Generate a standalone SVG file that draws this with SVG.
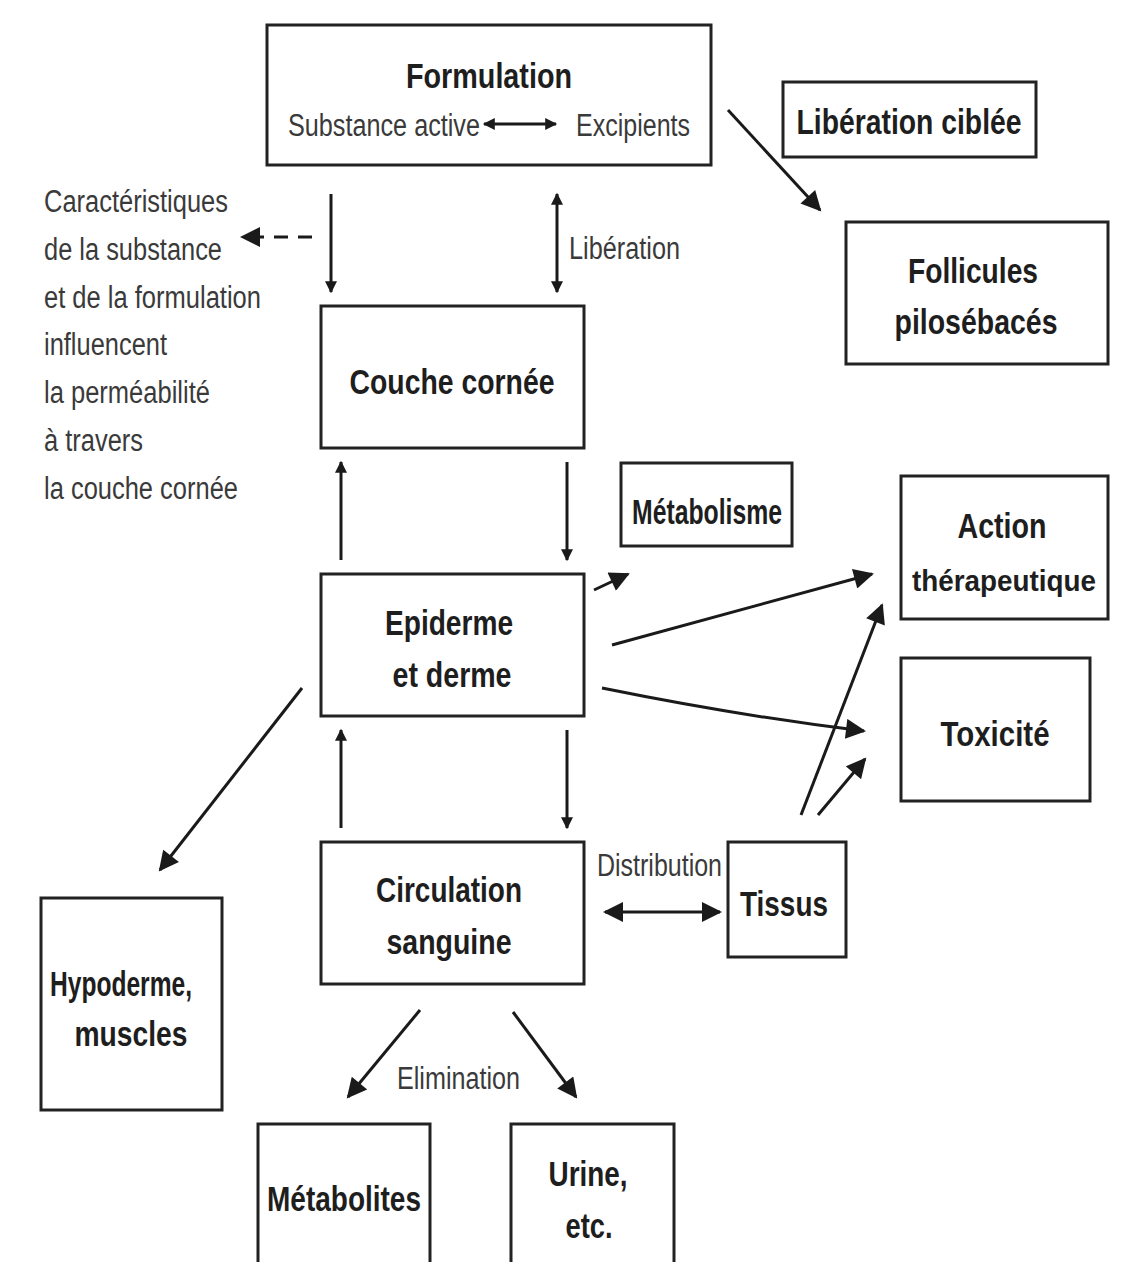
<svg xmlns="http://www.w3.org/2000/svg" width="1136" height="1262" viewBox="0 0 1136 1262">
<defs>
<style>
.box{fill:#fff;stroke:#222;stroke-width:3}
.b{font-family:"Liberation Sans",Arial,sans-serif;font-weight:bold;font-size:35px;fill:#1e1e1e;text-anchor:middle}
.n{font-family:"Liberation Sans",Arial,sans-serif;font-size:31px;fill:#3a3a3a}
.c{stroke:#1a1a1a;stroke-width:3;fill:none}
</style>
<marker id="ah" viewBox="0 0 10 10" refX="9" refY="5" markerWidth="22" markerHeight="20" markerUnits="userSpaceOnUse" orient="auto-start-reverse">
<path d="M0,0 L10,5 L0,10 z" fill="#1a1a1a"/>
</marker>
<marker id="as" viewBox="0 0 10 10" refX="9" refY="5" markerWidth="14" markerHeight="12" markerUnits="userSpaceOnUse" orient="auto-start-reverse">
<path d="M0,0 L10,5 L0,10 z" fill="#1a1a1a"/>
</marker>
</defs>
<rect width="1136" height="1262" fill="#fff"/>

<g id="formulation">
<rect class="box" x="267" y="25" width="444" height="140"/>
<text class="b" x="489" y="88" textLength="166" lengthAdjust="spacingAndGlyphs">Formulation</text>
<text class="n" x="288" y="136" textLength="192" lengthAdjust="spacingAndGlyphs">Substance active</text>
<text class="n" x="576" y="136" textLength="114" lengthAdjust="spacingAndGlyphs">Excipients</text>
</g>
<g id="liberation-ciblee">
<rect class="box" x="783" y="82" width="253" height="75"/>
<text class="b" x="909" y="134" textLength="225" lengthAdjust="spacingAndGlyphs">Libération ciblée</text>
</g>
<g id="follicules">
<rect class="box" x="846" y="222" width="262" height="142"/>
<text class="b" x="973" y="283" textLength="130" lengthAdjust="spacingAndGlyphs">Follicules</text>
<text class="b" x="976" y="334" textLength="163" lengthAdjust="spacingAndGlyphs">pilosébacés</text>
</g>
<g id="caracteristiques">
<text class="n" x="44" y="212" textLength="184" lengthAdjust="spacingAndGlyphs">Caractéristiques</text>
<text class="n" x="44" y="260" textLength="178" lengthAdjust="spacingAndGlyphs">de la substance</text>
<text class="n" x="44" y="308" textLength="217" lengthAdjust="spacingAndGlyphs">et de la formulation</text>
<text class="n" x="44" y="355" textLength="123" lengthAdjust="spacingAndGlyphs">influencent</text>
<text class="n" x="44" y="403" textLength="166" lengthAdjust="spacingAndGlyphs">la perméabilité</text>
<text class="n" x="44" y="451" textLength="99" lengthAdjust="spacingAndGlyphs">à travers</text>
<text class="n" x="44" y="499" textLength="194" lengthAdjust="spacingAndGlyphs">la couche cornée</text>
</g>
<g id="couche-cornee">
<rect class="box" x="321" y="306" width="263" height="142"/>
<text class="b" x="452" y="394" textLength="205" lengthAdjust="spacingAndGlyphs">Couche cornée</text>
</g>
<g id="metabolisme">
<rect class="box" x="621" y="463" width="171" height="83"/>
<text class="b" x="707" y="524" textLength="150" lengthAdjust="spacingAndGlyphs">Métabolisme</text>
</g>
<g id="action">
<rect class="box" x="901" y="476" width="207" height="143"/>
<text class="b" x="1002" y="538" textLength="89" lengthAdjust="spacingAndGlyphs">Action</text>
<text class="b" x="1004" y="591" style="font-size:30px" textLength="184" lengthAdjust="spacingAndGlyphs">thérapeutique</text>
</g>
<g id="toxicite">
<rect class="box" x="901" y="658" width="189" height="143"/>
<text class="b" x="995" y="746" textLength="109" lengthAdjust="spacingAndGlyphs">Toxicité</text>
</g>
<g id="epiderme">
<rect class="box" x="321" y="574" width="263" height="142"/>
<text class="b" x="449" y="635" textLength="128" lengthAdjust="spacingAndGlyphs">Epiderme</text>
<text class="b" x="452" y="687" textLength="119" lengthAdjust="spacingAndGlyphs">et derme</text>
</g>
<g id="circulation">
<rect class="box" x="321" y="842" width="263" height="142"/>
<text class="b" x="449" y="902" textLength="146" lengthAdjust="spacingAndGlyphs">Circulation</text>
<text class="b" x="449" y="954" textLength="125" lengthAdjust="spacingAndGlyphs">sanguine</text>
</g>
<g id="tissus">
<rect class="box" x="728" y="842" width="118" height="115"/>
<text class="b" x="784" y="916" textLength="88" lengthAdjust="spacingAndGlyphs">Tissus</text>
</g>
<g id="hypoderme">
<rect class="box" x="41" y="898" width="181" height="212"/>
<text class="b" x="121" y="996" textLength="142" lengthAdjust="spacingAndGlyphs">Hypoderme,</text>
<text class="b" x="131" y="1046" textLength="113" lengthAdjust="spacingAndGlyphs">muscles</text>
</g>
<g id="metabolites">
<rect class="box" x="258" y="1124" width="172" height="145"/>
<text class="b" x="344" y="1211" textLength="154" lengthAdjust="spacingAndGlyphs">Métabolites</text>
</g>
<g id="urine">
<rect class="box" x="511" y="1124" width="163" height="145"/>
<text class="b" x="588" y="1186" textLength="79" lengthAdjust="spacingAndGlyphs">Urine,</text>
<text class="b" x="589" y="1238" textLength="47" lengthAdjust="spacingAndGlyphs">etc.</text>
</g>

<g id="connectors">
<line class="c" x1="484" y1="124" x2="556" y2="124" stroke-width="2" marker-start="url(#as)" marker-end="url(#as)"/>
<line class="c" x1="331" y1="194" x2="331" y2="292" marker-end="url(#as)"/>
<line class="c" x1="557" y1="194" x2="557" y2="292" marker-start="url(#as)" marker-end="url(#as)"/>
<text class="n" x="569" y="259" textLength="111" lengthAdjust="spacingAndGlyphs">Libération</text>
<line class="c" x1="312" y1="237" x2="242" y2="237" stroke-width="5" stroke-dasharray="14,10" marker-end="url(#ah)"/>
<line class="c" x1="728" y1="110" x2="820" y2="210" marker-end="url(#ah)"/>
<line class="c" x1="567" y1="462" x2="567" y2="560" marker-end="url(#as)"/>
<line class="c" x1="341" y1="560" x2="341" y2="462" marker-end="url(#as)"/>
<line class="c" x1="594" y1="590" x2="628" y2="574" marker-end="url(#ah)"/>
<line class="c" x1="612" y1="645" x2="872" y2="574" marker-end="url(#ah)"/>
<path class="c" d="M602,688 Q740,716 864,731" marker-end="url(#ah)"/>
<line class="c" x1="302" y1="688" x2="160" y2="870" marker-end="url(#ah)"/>
<line class="c" x1="567" y1="730" x2="567" y2="828" marker-end="url(#as)"/>
<line class="c" x1="341" y1="828" x2="341" y2="730" marker-end="url(#as)"/>
<line class="c" x1="605" y1="912" x2="720" y2="912" marker-start="url(#ah)" marker-end="url(#ah)"/>
<text class="n" x="597" y="876" textLength="125" lengthAdjust="spacingAndGlyphs">Distribution</text>
<line class="c" x1="801" y1="815" x2="882" y2="605" marker-end="url(#ah)"/>
<line class="c" x1="818" y1="815" x2="865" y2="759" marker-end="url(#ah)"/>
<line class="c" x1="420" y1="1010" x2="348" y2="1097" marker-end="url(#ah)"/>
<line class="c" x1="513" y1="1012" x2="576" y2="1097" marker-end="url(#ah)"/>
<text class="n" x="397" y="1089" textLength="123" lengthAdjust="spacingAndGlyphs">Elimination</text>
</g>
</svg>
